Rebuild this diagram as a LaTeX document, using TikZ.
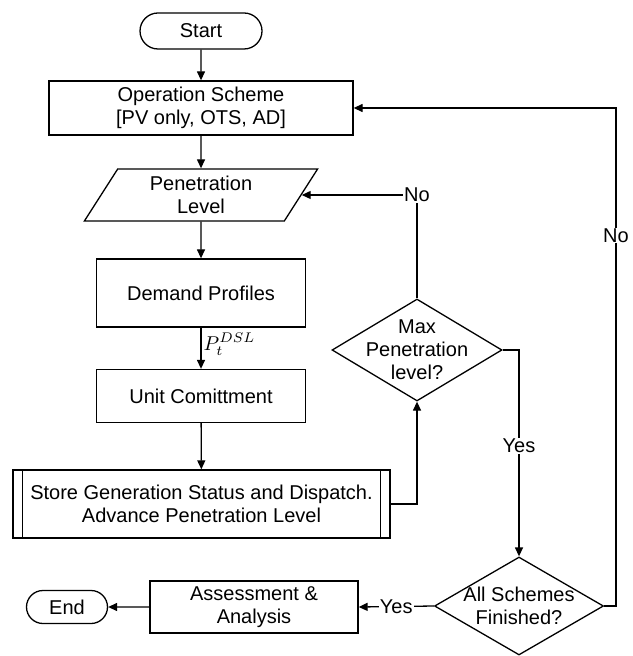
\documentclass[tikz,border=0pt]{standalone}
\usepackage{fontspec}
\setmainfont{Liberation Sans}
\usetikzlibrary{shapes.geometric,shapes.misc,arrows.meta}

\begin{document}
\begin{tikzpicture}[x=0.5pt, y=-0.5pt,
        every node/.style={font=\fontsize{10}{11.5}\selectfont, align=center},
        term/.style={draw, rounded rectangle, inner sep=1pt},
        proc/.style={draw, rectangle, inner sep=1pt},
        io/.style={draw, trapezium, trapezium left angle=63, trapezium right angle=117,
            trapezium stretches=true, inner sep=1pt},
        decide/.style={draw, diamond, aspect=1.67, inner sep=-4pt},
        flow/.style={-{Triangle[length=4.5pt,width=4pt]}},
        tag/.style={fill=white, inner sep=0.5pt},
        line width=0.65pt]
        \useasboundingbox (0,0) rectangle (632,656);

        \node[term, minimum width=63pt, minimum height=18pt] (start) at (201, 31) {Start};
        \node[proc, minimum width=152pt, minimum height=27pt] (scheme) at (201, 108) {Operation Scheme\\ {[PV only, OTS, AD]}};
        \node[io, minimum width=117pt, minimum height=26pt] (penlevel) at (201, 195) {Penetration\\Level};
        \node[proc, minimum width=104.5pt, minimum height=34pt] (demand) at (201, 293) {Demand Profiles};
        \node[proc, minimum width=104.5pt, minimum height=26.5pt] (unit) at (201, 396) {Unit Comittment};
        \node[proc, minimum width=188.5pt, minimum height=34pt] (store) at (201.5, 504) {Store Generation Status and Dispatch.\\Advance Penetration Level};
        \draw ([xshift=5pt]store.north west) -- ([xshift=5pt]store.south west);
        \draw ([xshift=-5pt]store.north east) -- ([xshift=-5pt]store.south east);
        \node[decide, minimum width=85pt, minimum height=51pt] (maxpen) at (417, 350) {Max\\Penetration\\level?};
        \node[decide, minimum width=84.5pt, minimum height=49pt] (allsch) at (519, 606) {All Schemes\\Finished?};
        \node[proc, minimum width=104pt, minimum height=26pt] (assess) at (254, 607) {Assessment \&\\Analysis};
        \node[term, minimum width=42.5pt, minimum height=16.5pt] (finish) at (67, 607) {End};

        \draw[flow] (start) -- (scheme);
        \draw[flow] (scheme) -- (penlevel);
        \draw[flow] (penlevel) -- (demand);
        \draw[flow] (demand) -- node[pos=0.4, anchor=west, inner sep=1pt] {$P_t^{DSL}$} (unit);
        \draw[flow] (unit) -- (store);
        \draw[flow] (store.east) -| (maxpen.south);
        \draw[flow] (maxpen.north) |- node[pos=0.5, tag] {No} (penlevel);
        \draw[flow] (maxpen.east) -| node[pos=0.732, tag] {Yes} (allsch.north);
        \draw[flow] (allsch.west) -- node[tag] {Yes} (assess.east);
        \draw[flow] (assess) -- (finish);
        \coordinate (back) at (616, 108);
        \draw[flow] (allsch.east) -| node[pos=0.872, tag] {No} (back) -- (scheme.east);
    \end{tikzpicture}
\end{document}
